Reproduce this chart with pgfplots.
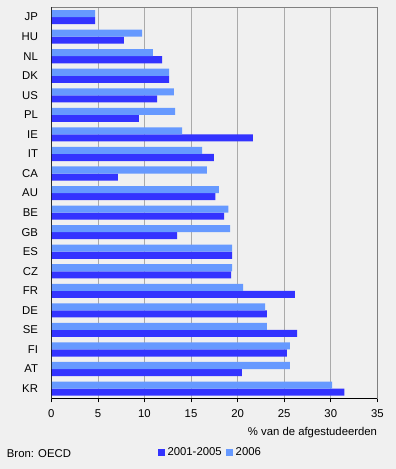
\documentclass[border=0pt]{standalone}
\usepackage{pgfplots}
\usepackage{pgfplotstable}
\pgfplotsset{compat=1.18}
\usepackage{fontspec}
\setmainfont{Liberation Sans}
\definecolor{bg}{HTML}{F0F0F0}
\definecolor{darkb}{HTML}{3333FF}
\definecolor{lightb}{HTML}{6699FF}
\definecolor{gridc}{HTML}{AAAAAA}
\definecolor{framec}{HTML}{808080}
\pgfplotstableread{
idx label old new
0 JP 4.7 4.7
1 HU 7.8 9.75
2 NL 11.9 10.9
3 DK 12.65 12.65
4 US 11.35 13.15
5 PL 9.4 13.3
6 IE 21.65 14.05
7 IT 17.45 16.2
8 CA 7.15 16.7
9 AU 17.6 18.0
10 BE 18.55 19.0
11 GB 13.5 19.2
12 ES 19.4 19.4
13 CZ 19.3 19.4
14 FR 26.15 20.6
15 DE 23.15 22.95
16 SE 26.4 23.15
17 FI 25.3 25.6
18 AT 20.45 25.6
19 KR 31.45 30.15
}\data
\begin{document}
\begin{tikzpicture}
\fill[bg] (0,0) rectangle (297pt,351.75pt);
\path[use as bounding box] (0,0) rectangle (297pt,351.75pt);
\begin{axis}[
  at={(38.5pt,53pt)}, anchor=south west,
  width=244.5pt, height=293.25pt, scale only axis,
  xmin=0, xmax=35, ymin=-0.5, ymax=19.5,
  y dir=reverse,
  xbar, bar width=0.36,
  xtick={0,5,...,35},
  ytick=data,
  yticklabels from table={\data}{label},
  xtick pos=bottom,
  tick align=outside,
  x tick style={black, line width=0.6pt},
  major tick length=3pt,
  y tick style={draw=none},
  xmajorgrids, grid style={gridc, line width=0.6pt},
  axis line style={framec, line width=0.8pt},
  axis background/.style={fill=bg},
  /pgf/number format/assume math mode=true,
  tick label style={font=\fontsize{8.5}{10}\selectfont},
  yticklabel style={xshift=-3.5pt},
  xticklabel style={yshift=-2pt},
  legend style={at={(rel axis cs:0.327,0)}, anchor=west, yshift=-40.5pt,
    draw=none, fill=none, inner sep=0pt, font=\fontsize{8.5}{10}\selectfont,
    /tikz/every even column/.append style={column sep=1.5pt}},
  legend columns=2,
  legend cell align=left,
]
\addplot[fill=darkb, draw=none, bar shift=0.18,
  legend image code/.code={\fill[darkb] (0pt,-2.5pt) rectangle (5pt,2.5pt);}]
  table[x=old, y=idx] {\data};
\addlegendentry{2001-2005}
\addplot[fill=lightb, draw=none, bar shift=-0.18,
  legend image code/.code={\fill[lightb] (0pt,-2.5pt) rectangle (5pt,2.5pt);}]
  table[x=new, y=idx] {\data};
\addlegendentry{2006}
\draw[black, line width=0.8pt] (rel axis cs:0,1) -- (rel axis cs:0,0) -- (rel axis cs:1,0);
\end{axis}
\node[anchor=east, font=\fontsize{8.5}{10}\selectfont, inner sep=0pt] at (283pt,27.5pt) {\% van de afgestudeerden};
\node[anchor=west, font=\fontsize{8.5}{10}\selectfont, inner sep=0pt] at (5pt,11.8pt) {Bron: OECD};
\end{tikzpicture}
\end{document}
